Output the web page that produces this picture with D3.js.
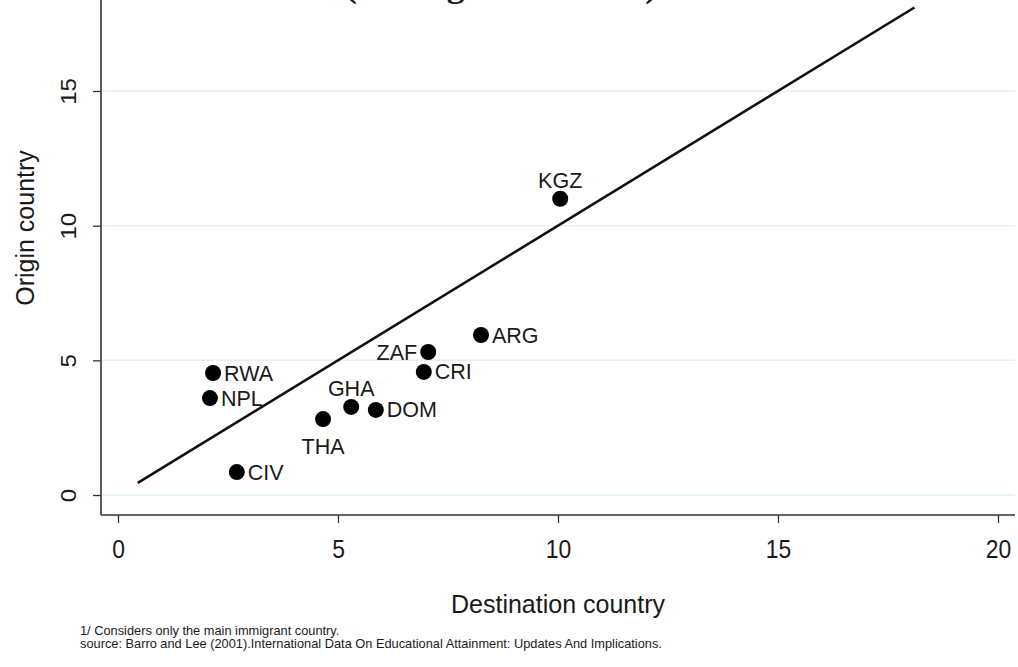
<!DOCTYPE html>
<html>
<head>
<meta charset="utf-8">
<script src="https://cdn.jsdelivr.net/npm/d3@7"></script>
<style>
  html, body { margin: 0; padding: 0; background: #ffffff; }
  svg { display: block; }
  text { font-family: "Liberation Sans", Arial, sans-serif; fill: #1a1a1a; }
</style>
</head>
<body>
<svg id="chart" width="1018" height="667"></svg>
<script>
// Average years of schooling: destination vs origin country
const countries = ["KGZ", "ARG", "ZAF", "CRI", "RWA", "NPL", "GHA", "DOM", "THA", "CIV"];
const destination = [10.05, 8.25, 7.05, 6.95, 2.16, 2.09, 5.30, 5.86, 4.66, 2.70];
const origin      = [11.0, 5.94, 5.31, 4.57, 4.53, 3.60, 3.27, 3.16, 2.82, 0.85];
// marker label position (clock position, as in Stata's mlabvposition)
const labelPos    = [12, 3, 9, 3, 3, 3, 12, 3, 6, 3];

const xTicks = [0, 5, 10, 15, 20];
const yTicks = [0, 5, 10, 15];
const lineRange = [0.45, 18.1]; // 45-degree reference line

const svg = d3.select("#chart");

const x = d3.scaleLinear().domain([0, 20]).range([118, 998]);
const y = d3.scaleLinear().domain([0, 15]).range([495, 91]);

const plotLeft = 101, plotRight = 1015, plotBottom = 515, plotTop = 0;

// Title (sits partly above the visible area)
svg.append("text")
  .attr("x", 345).attr("y", -3)
  .attr("textLength", 312).attr("lengthAdjust", "spacingAndGlyphs")
  .style("font-family", "'Liberation Serif', 'Times New Roman', serif")
  .style("font-size", "34px").style("font-weight", "bold")
  .text("(Average Education)");

// horizontal grid lines
svg.append("g").selectAll("line").data(yTicks).join("line")
  .attr("x1", plotLeft + 1).attr("x2", plotRight)
  .attr("y1", d => y(d)).attr("y2", d => y(d))
  .attr("stroke", "#e6eff1").attr("stroke-width", 1.5);

// axes
const xAxis = d3.axisBottom(x).tickValues(xTicks).tickSize(8).tickPadding(14).tickFormat(d3.format("d"));
const gx = svg.append("g").attr("transform", `translate(0,${plotBottom})`).call(xAxis);
gx.select(".domain").remove();
gx.selectAll(".tick line").attr("stroke", "#333").attr("stroke-width", 1.3);
gx.selectAll(".tick text").style("font-size", "26px").attr("fill", "#1a1a1a")
  .attr("transform", "scale(0.88,1)")
  .attr("y", 25);

const yAxis = d3.axisLeft(y).tickValues(yTicks).tickSize(8).tickPadding(0).tickFormat(d3.format("d"));
const gy = svg.append("g").attr("transform", `translate(${plotLeft},0)`).call(yAxis);
gy.select(".domain").remove();
gy.selectAll(".tick line").attr("stroke", "#333").attr("stroke-width", 1.3);
gy.selectAll(".tick text")
  .style("font-size", "24px").attr("fill", "#1a1a1a")
  .attr("text-anchor", "middle").attr("x", null).attr("dy", null)
  .attr("transform", "translate(-33,0) rotate(-90) scale(1,0.9)")
  .attr("y", 0).attr("dy", "0.35em");

// axis lines
svg.append("line").attr("x1", plotLeft).attr("x2", plotLeft).attr("y1", plotTop).attr("y2", plotBottom)
  .attr("stroke", "#333").attr("stroke-width", 1.6);
svg.append("line").attr("x1", plotLeft).attr("x2", plotRight).attr("y1", plotBottom).attr("y2", plotBottom)
  .attr("stroke", "#333").attr("stroke-width", 1.6);

// axis titles
svg.append("text").attr("x", 558).attr("y", 613).attr("text-anchor", "middle")
  .style("font-size", "25px").text("Destination country");
svg.append("text").attr("transform", "translate(34,228) rotate(-90)").attr("text-anchor", "middle")
  .style("font-size", "25px").text("Origin country");

// 45-degree line
svg.append("line")
  .attr("x1", x(lineRange[0])).attr("y1", y(lineRange[0]))
  .attr("x2", x(lineRange[1])).attr("y2", y(lineRange[1]))
  .attr("stroke", "#111").attr("stroke-width", 2.6);

// points
const data = countries.map((c, i) => ({ c, dx: destination[i], oy: origin[i], pos: labelPos[i] }));
svg.append("g").selectAll("circle").data(data).join("circle")
  .attr("cx", d => x(d.dx)).attr("cy", d => y(d.oy)).attr("r", 8)
  .attr("fill", "#000");

// marker labels
svg.append("g").selectAll("text").data(data).join("text")
  .style("font-size", "21.5px")
  .attr("x", d => d.pos === 3 ? x(d.dx) + 11 : d.pos === 9 ? x(d.dx) - 11 : x(d.dx))
  .attr("y", d => d.pos === 12 ? y(d.oy) - 11 : d.pos === 6 ? y(d.oy) + 35 : y(d.oy))
  .attr("dy", d => (d.pos === 3 || d.pos === 9) ? "0.35em" : null)
  .attr("text-anchor", d => d.pos === 3 ? "start" : d.pos === 9 ? "end" : "middle")
  .text(d => d.c);

// notes
svg.append("text").attr("x", 80).attr("y", 635).style("font-size", "12.8px")
  .text("1/ Considers only the main immigrant country.");
svg.append("text").attr("x", 80).attr("y", 648).style("font-size", "12.8px")
  .text("source: Barro and Lee (2001).International Data On Educational Attainment: Updates And Implications.");
</script>
</body>
</html>
